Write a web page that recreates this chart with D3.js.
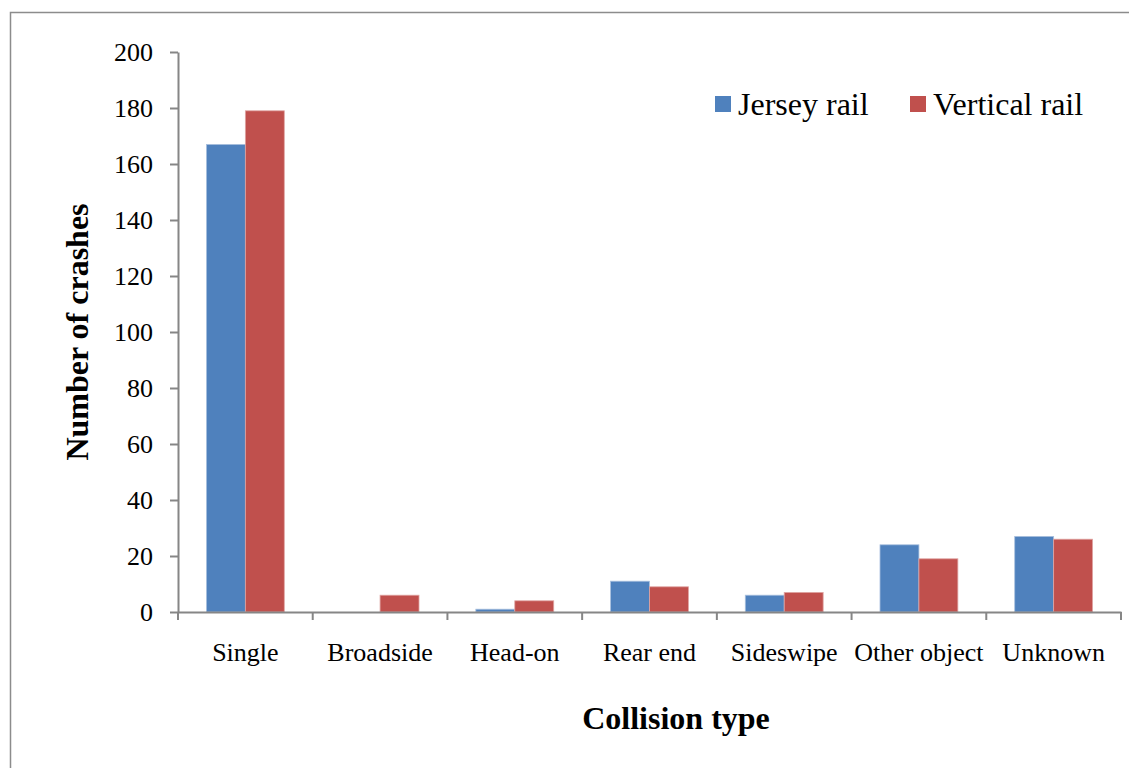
<!DOCTYPE html>
<html>
<head>
<meta charset="utf-8">
<script src="https://cdn.jsdelivr.net/npm/d3@7"></script>
<style>
  body { margin: 0; background: #fff; }
  svg { display: block; font-family: "Liberation Serif", "Times New Roman", serif; }
</style>
</head>
<body>
<svg id="chart" width="1129" height="768"></svg>
<script>
// chart data
var categories = ["Single", "Broadside", "Head-on", "Rear end", "Sideswipe", "Other object", "Unknown"];
var seriesNames = ["Jersey rail", "Vertical rail"];
var jerseyRail = [167, 0, 1, 11, 6, 24, 27];
var verticalRail = [179, 6, 4, 9, 7, 19, 26];
var yTicks = [0, 20, 40, 60, 80, 100, 120, 140, 160, 180, 200];

var colors = ["#4F81BD", "#C0504D"];

var svg = d3.select("#chart");
var plotLeft = 178, plotRight = 1121, plotTop = 52, plotBottom = 612;

// outer frame
svg.append("rect")
    .attr("x", 10.5).attr("y", 12.5)
    .attr("width", 1140).attr("height", 780)
    .style("fill", "none").style("stroke", "#8c8c8c").style("stroke-width", 1.5);

var x = d3.scaleBand().domain(categories).range([plotLeft, plotRight]).paddingInner(0).paddingOuter(0);
var x1 = d3.scaleBand().domain(seriesNames).range([0, x.bandwidth()]).paddingInner(0).paddingOuter(0.73);
var y = d3.scaleLinear().domain([0, 200]).range([plotBottom, plotTop]);

var rows = categories.map(function(c, i) {
    return {cat: c, vals: [jerseyRail[i], verticalRail[i]]};
});

var groups = svg.selectAll(".grp").data(rows).enter().append("g")
    .attr("class", "grp")
    .attr("transform", function(d) { return "translate(" + x(d.cat) + ",0)"; });

groups.selectAll("rect").data(function(d) {
        return d.vals.map(function(v, j) { return {name: seriesNames[j], v: v, j: j}; });
    })
    .enter().append("rect")
    .attr("x", function(d) { return x1(d.name); })
    .attr("width", x1.bandwidth())
    .attr("y", function(d) { return y(d.v); })
    .attr("height", function(d) { return plotBottom - y(d.v); })
    .style("fill", function(d) { return colors[d.j]; })
    .style("stroke", function(d) { return d.j == 0 ? "#a9c0de" : "#dfa5a3"; })
    .style("stroke-width", 0.8);

// y axis
var yAxis = svg.append("g")
    .attr("transform", "translate(" + plotLeft + ",0)")
    .call(d3.axisLeft(y).tickValues(yTicks).tickSize(8).tickPadding(17).tickSizeOuter(0));
yAxis.select(".domain").style("stroke", "#868686").style("stroke-width", 2);
yAxis.selectAll(".tick line").style("stroke", "#868686").style("stroke-width", 2);
yAxis.selectAll("text").style("font-size", "26px").style("font-family", "Liberation Serif").style("fill", "#000");

// x axis
var xAxis = svg.append("g")
    .attr("transform", "translate(0," + plotBottom + ")")
    .call(d3.axisBottom(x).tickSize(0).tickPadding(31));
xAxis.select(".domain").style("stroke", "#868686").style("stroke-width", 2);
xAxis.selectAll("text").style("font-size", "26px").style("font-family", "Liberation Serif").style("fill", "#000");
// boundary ticks between categories
var bounds = categories.map(function(c) { return x(c); }).concat([plotRight]);
svg.selectAll(".bt").data(bounds).enter().append("line")
    .attr("x1", function(d) { return d; }).attr("x2", function(d) { return d; })
    .attr("y1", plotBottom).attr("y2", plotBottom + 8)
    .style("stroke", "#868686").style("stroke-width", 2);

// axis titles
svg.append("text")
    .attr("x", 676).attr("y", 729)
    .attr("text-anchor", "middle")
    .style("font-size", "32px").style("font-weight", "bold")
    .text("Collision type");

svg.append("text")
    .attr("transform", "translate(88," + 332 + ") rotate(-90)")
    .attr("text-anchor", "middle")
    .style("font-size", "32px").style("font-weight", "bold")
    .text("Number of crashes");

// legend
var legendX = [715, 910];
var leg = svg.selectAll(".leg").data(seriesNames).enter().append("g")
    .attr("transform", function(d, i) { return "translate(" + legendX[i] + ",96)"; });
leg.append("rect").attr("width", 16).attr("height", 16)
    .style("fill", function(d, i) { return colors[i]; });
leg.append("text").attr("x", 23).attr("y", 19)
    .style("font-size", "32px")
    .text(function(d) { return d; });
</script>
</body>
</html>
